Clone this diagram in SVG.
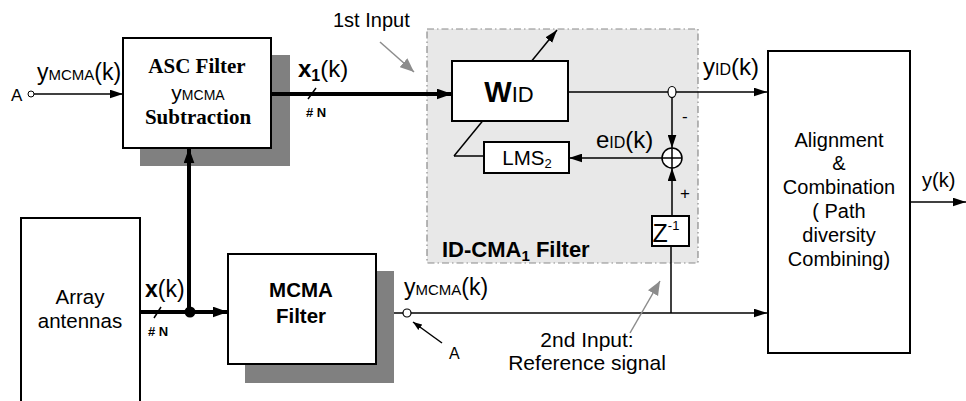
<svg xmlns="http://www.w3.org/2000/svg" width="966" height="401" viewBox="0 0 966 401">
<defs>
<style>
text{font-family:"Liberation Sans",Arial,sans-serif;fill:#000}
.serif{font-family:"Liberation Serif","Times New Roman",serif;font-weight:bold}
.box{fill:#fff;stroke:#000;stroke-width:2}
.shadow{fill:#808080}
.thin{stroke:#000;stroke-width:1.5;fill:none}
.thick{stroke:#000;stroke-width:4;fill:none}
.gray{stroke:#8c8c8c;stroke-width:1.5;fill:none}
</style>
<marker id="ah" viewBox="0 0 12 8" refX="12" refY="4" markerWidth="13" markerHeight="9" markerUnits="userSpaceOnUse" orient="auto"><path d="M0,0 L12,4 L0,8 z" fill="#000"/></marker>
<marker id="ahT" viewBox="0 0 14 10" refX="14" refY="5" markerWidth="15" markerHeight="11" markerUnits="userSpaceOnUse" orient="auto"><path d="M0,0 L14,5 L0,10 z" fill="#000"/></marker>
<marker id="ahG" viewBox="0 0 12 10" refX="12" refY="5" markerWidth="14" markerHeight="12" markerUnits="userSpaceOnUse" orient="auto"><path d="M0,0 L12,5 L0,10 z" fill="#8c8c8c"/></marker>
<marker id="ahS" viewBox="0 0 8 6" refX="8" refY="3" markerWidth="9" markerHeight="7" markerUnits="userSpaceOnUse" orient="auto"><path d="M0,0 L8,3 L0,6 z" fill="#000"/></marker>
</defs>
<rect width="966" height="401" fill="#fff"/>

<g id="id-cma-region">
<rect x="427" y="29" width="271" height="234" fill="#e8e8e8" stroke="#8a8a8a" stroke-width="1.2" stroke-dasharray="7,3,1.5,3"/>
<text x="442" y="257" font-size="22" font-weight="bold">ID-CMA<tspan font-size="15" dy="4">1</tspan><tspan dy="-4"> Filter</tspan></text>
</g>

<g id="asc-filter">
<rect class="shadow" x="140" y="55" width="150" height="111"/>
<rect class="box" x="123" y="38" width="148" height="110"/>
<text class="serif" x="197" y="73" font-size="21" text-anchor="middle">ASC Filter</text>
<text x="198" y="100" font-size="21" text-anchor="middle">y<tspan font-size="14">MCMA</tspan></text>
<text class="serif" x="198" y="124" font-size="21" text-anchor="middle">Subtraction</text>
</g>

<g id="mcma-filter">
<rect class="shadow" x="245" y="271" width="149" height="112"/>
<rect class="box" x="228" y="254" width="148" height="110"/>
<text x="301" y="297" font-size="20.5" font-weight="bold" text-anchor="middle">MCMA</text>
<text x="301" y="323" font-size="20.5" font-weight="bold" text-anchor="middle">Filter</text>
</g>

<g id="array-antennas">
<rect class="box" x="21" y="218" width="119" height="200"/>
<text x="80" y="304" font-size="20.5" text-anchor="middle">Array</text>
<text x="80" y="328" font-size="20.5" text-anchor="middle">antennas</text>
</g>

<g id="w-id">
<rect class="box" x="452" y="61" width="116" height="60" stroke-width="1.5"/>
<text x="509" y="102" font-size="29" font-weight="bold" text-anchor="middle">W<tspan font-size="22" font-weight="normal">ID</tspan></text>
</g>

<g id="lms2">
<rect class="box" x="484" y="142" width="85" height="31" stroke-width="1.5"/>
<text x="527" y="165" font-size="20.5" text-anchor="middle">LMS<tspan font-size="13" dy="3">2</tspan></text>
</g>

<g id="sum">
<circle cx="672" cy="158" r="10" fill="#fff" stroke="#000" stroke-width="1.5"/>
<path class="thin" d="M662,158 H682 M672,148 V168"/>
</g>

<g id="z-delay">
<rect class="box" x="652" y="216" width="37" height="30" stroke-width="1.5"/>
<text x="666" y="242" font-size="25" text-anchor="middle">Z<tspan font-size="13" dy="-12">-1</tspan></text>
</g>

<g id="alignment">
<rect class="box" x="768" y="51" width="142" height="302" stroke-width="1.5"/>
<g font-size="20" text-anchor="middle">
<text x="839" y="147">Alignment</text>
<text x="839" y="170">&amp;</text>
<text x="839" y="194">Combination</text>
<text x="839" y="218">( Path</text>
<text x="839" y="242">diversity</text>
<text x="839" y="266">Combining)</text>
</g>
</g>

<g id="connectors">
<!-- A input to ASC -->
<circle cx="31" cy="94" r="3" fill="#fff" stroke="#000" stroke-width="1"/>
<line class="thin" x1="34" y1="94" x2="123" y2="94" marker-end="url(#ah)"/>
<!-- ASC out thick to W -->
<line class="thick" x1="271" y1="94" x2="452" y2="94" marker-end="url(#ahT)"/>
<line class="thin" x1="308" y1="99" x2="316" y2="88"/>
<!-- 1st input pointer -->
<line class="gray" x1="380" y1="42" x2="414" y2="72" marker-end="url(#ahG)"/>
<!-- adaptive diagonal (passes behind W box) -->
<line class="thin" x1="454" y1="156" x2="482.6" y2="121"/>
<line class="thin" x1="531.7" y1="61" x2="557" y2="30" marker-end="url(#ah)"/>
<line class="thin" x1="454" y1="156" x2="484" y2="156"/>
<!-- W out to alignment -->
<line class="thin" x1="568" y1="92" x2="767" y2="92" marker-end="url(#ah)"/>
<ellipse cx="672" cy="92" rx="4" ry="5.5" fill="#fff" stroke="#000" stroke-width="1.2"/>
<line class="thin" x1="672" y1="97.5" x2="672" y2="148" marker-end="url(#ah)"/>
<!-- error to LMS -->
<line class="thin" x1="662" y1="158" x2="569" y2="158" marker-end="url(#ah)"/>
<!-- Z to sum -->
<line class="thin" x1="672" y1="216" x2="672" y2="168" marker-end="url(#ah)"/>
<line class="thin" x1="671" y1="246" x2="671" y2="313"/>
<!-- array out thick -->
<line class="thick" x1="140" y1="312" x2="228" y2="312" marker-end="url(#ahT)"/>
<line class="thin" x1="154" y1="318" x2="161" y2="307"/>
<line class="thick" x1="189" y1="312" x2="189" y2="148" marker-end="url(#ahT)"/>
<circle cx="190" cy="312" r="5.5" fill="#000"/>
<!-- MCMA out -->
<line class="thin" x1="394" y1="313" x2="403" y2="313"/>
<circle cx="407" cy="313" r="4" fill="#fff" stroke="#000" stroke-width="1.2"/>
<line class="thin" x1="411" y1="313" x2="767" y2="313" marker-end="url(#ah)"/>
<line class="thin" x1="442" y1="343" x2="413" y2="322" marker-end="url(#ahS)"/>
<!-- 2nd input pointer -->
<line class="gray" x1="630" y1="333" x2="660" y2="281" marker-end="url(#ahG)"/>
<!-- output -->
<line class="thin" x1="910" y1="202" x2="966" y2="202" marker-end="url(#ah)"/>
</g>

<g id="labels">
<text x="11" y="101" font-size="17">A</text>
<text x="37" y="80" font-size="23">y<tspan font-size="15">MCMA</tspan>(k)</text>
<text x="298" y="77" font-size="24"><tspan font-weight="bold">x</tspan><tspan font-size="16" font-weight="bold" dy="4">1</tspan><tspan dy="-4">(k)</tspan></text>
<text x="306" y="117" font-size="13" font-weight="bold"># N</text>
<text x="333" y="27" font-size="20">1st Input</text>
<text x="703" y="75" font-size="24">y<tspan font-size="16">ID</tspan>(k)</text>
<text x="682" y="122" font-size="17">-</text>
<text x="596" y="148" font-size="24">e<tspan font-size="16">ID</tspan>(k)</text>
<text x="680" y="199" font-size="17">+</text>
<text x="145" y="297" font-size="23"><tspan font-weight="bold">x</tspan>(k)</text>
<text x="148" y="336" font-size="13" font-weight="bold"># N</text>
<text x="404" y="295" font-size="23">y<tspan font-size="15">MCMA</tspan>(k)</text>
<text x="449" y="359" font-size="16">A</text>
<text x="587" y="347" font-size="21" text-anchor="middle">2nd Input:</text>
<text x="587" y="370" font-size="21" text-anchor="middle">Reference signal</text>
<text x="922" y="187" font-size="20">y(k)</text>
</g>
</svg>
